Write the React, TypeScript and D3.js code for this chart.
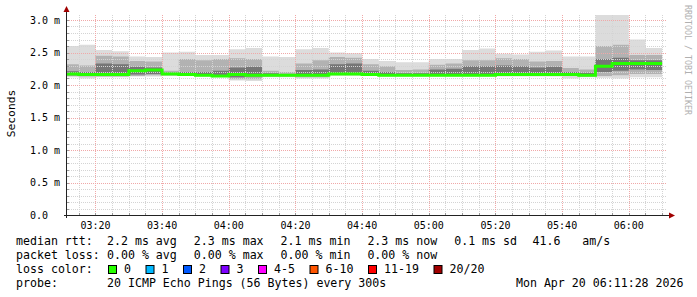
import React from "react";
import * as d3 from "d3";

// bucket start times (5-min steps), values in ms
const bucketStarts = [
  "03:10","03:15","03:20","03:25","03:30","03:35","03:40","03:45","03:50","03:55",
  "04:00","04:05","04:10","04:15","04:20","04:25","04:30","04:35","04:40","04:45",
  "04:50","04:55","05:00","05:05","05:10","05:15","05:20","05:25","05:30","05:35",
  "05:40","05:45","05:50","05:55","06:00","06:05",
];
const pingMax = [2.60,2.62,2.54,2.52,2.44,2.43,2.50,2.51,2.46,2.46,2.55,2.57,2.44,2.43,2.55,2.57,2.50,2.49,2.40,2.37,2.35,2.35,2.40,2.40,2.54,2.56,2.48,2.47,2.51,2.53,2.44,2.44,3.10,3.10,2.70,2.57];
const pingHiA = [2.32,2.30,2.45,2.44,2.37,2.36,2.22,2.40,2.38,2.40,2.41,2.40,2.22,2.20,2.33,2.38,2.43,2.42,2.32,2.29,2.23,2.24,2.31,2.33,2.38,2.38,2.41,2.40,2.36,2.37,2.26,2.24,2.60,2.62,2.46,2.46];
const pingHiB = [2.21,2.20,2.33,2.32,2.28,2.27,2.19,2.20,2.20,2.22,2.27,2.28,2.18,2.17,2.23,2.24,2.32,2.33,2.22,2.20,2.18,2.18,2.24,2.25,2.29,2.29,2.30,2.29,2.27,2.28,2.20,2.19,2.40,2.42,2.38,2.38];
const pingMedian = [2.17,2.16,2.16,2.16,2.22,2.23,2.17,2.16,2.15,2.14,2.16,2.15,2.15,2.15,2.15,2.15,2.17,2.17,2.16,2.15,2.15,2.15,2.15,2.15,2.15,2.15,2.16,2.16,2.16,2.16,2.16,2.15,2.29,2.33,2.33,2.33];
const pingLoB = [2.15,2.15,2.14,2.14,2.16,2.17,2.16,2.15,2.14,2.13,2.12,2.13,2.14,2.14,2.14,2.14,2.16,2.16,2.15,2.14,2.14,2.14,2.14,2.14,2.14,2.14,2.15,2.15,2.15,2.15,2.15,2.14,2.20,2.22,2.24,2.23];
const pingLoA = [2.14,2.13,2.13,2.13,2.14,2.15,2.15,2.14,2.14,2.13,2.09,2.09,2.13,2.13,2.12,2.12,2.15,2.15,2.14,2.14,2.14,2.14,2.14,2.14,2.14,2.14,2.14,2.14,2.14,2.14,2.14,2.13,2.14,2.15,2.17,2.17];
const pingMin = [2.12,2.10,2.12,2.12,2.13,2.13,2.14,2.14,2.13,2.12,2.07,2.06,2.12,2.12,2.10,2.10,2.15,2.15,2.14,2.13,2.13,2.13,2.13,2.13,2.13,2.13,2.13,2.13,2.13,2.13,2.10,2.12,2.11,2.10,2.12,2.12];

const yTicks = [0, 0.5, 1.0, 1.5, 2.0, 2.5, 3.0];
const yTickLabels = ["0.0", "0.5 m", "1.0 m", "1.5 m", "2.0 m", "2.5 m", "3.0 m"];
const xTickLabels = ["03:20","03:40","04:00","04:20","04:40","05:00","05:20","05:40","06:00"];

const statLabels = ["2.2 ms avg", "2.3 ms max", "2.1 ms min", "2.3 ms now", "0.1 ms sd"];
const lossStats = ["0.00 % avg", "0.00 % max", "0.00 % min", "0.00 % now"];
const lossNames = ["0", "1", "2", "3", "4-5", "6-10", "11-19", "20/20"];
const lossColors = ["#26ff00", "#00b8ff", "#0059ff", "#7e00ff", "#ff00ff", "#ff5500", "#ff0000", "#a00000"];

const FONT = "'DejaVu Sans Mono', monospace";
const day = "2026-04-20T";
const parse = (s: string) => new Date(`${day}${s}:00`);

export default function App() {
  const W = 697, H = 297;
  const x0 = 67, x1 = 667, yBot = 215, yTop = 15;
  const x = d3.scaleTime().domain([new Date(`${day}03:11:28`), new Date(`${day}06:11:28`)]).range([x0, x1]);
  const y = d3.scaleLinear().domain([0, 3]).range([yBot, 20]);

  const starts = bucketStarts.map(parse);
  const lastEnd = new Date(starts[starts.length - 1].getTime() + 5 * 60000);
  const times = [...starts, lastEnd];
  const ext = (arr: number[]) => [...arr, arr[arr.length - 1]];

  const band = (lo: number[], hi: number[]) => {
    const L = ext(lo), Hh = ext(hi);
    return d3.area<number>()
      .x((i) => x(times[i]))
      .y0((i) => y(L[i]))
      .y1((i) => y(Hh[i]))
      .curve(d3.curveStepAfter)(d3.range(times.length)) || "";
  };
  const medExt = ext(pingMedian);
  const medLine = d3.line<number>()
    .x((i) => x(times[i]))
    .y((i) => y(medExt[i]))
    .curve(d3.curveStepAfter)(d3.range(times.length)) || "";

  const minorY = d3.range(0, 31).map((v) => v / 10).filter((v) => Math.round(v * 10) % 5 !== 0);
  const tickStart = parse("03:15");
  const minorX: Date[] = [];
  for (let t = tickStart.getTime(); t <= x.domain()[1].getTime(); t += 5 * 60000) {
    const d = new Date(t);
    if (d.getMinutes() % 20 !== 0) minorX.push(d);
  }
  const majorX = xTickLabels.map(parse);

  const col = (i: number) => 107 + 86.8 * i;
  const legendItems: { bx: number; name: string; color: string }[] = [];
  let bx = 108;
  lossNames.forEach((n, i) => {
    legendItems.push({ bx, name: n, color: lossColors[i] });
    bx = bx + 16 + n.length * 7 + 14.5;
  });

  return (
    <svg width={W} height={H} style={{ position: "absolute", left: 0, top: 0, background: "#fff" }}
      fontFamily={FONT}>
      <rect x={0} y={0} width={W} height={H} fill="#ffffff" />
      <defs>
        <clipPath id="plot">
          <rect x={x0} y={yTop} width={x1 - x0} height={yBot - yTop} />
        </clipPath>
      </defs>
      <g clipPath="url(#plot)">
        <path d={band(pingMin, pingMax)} fill="#dcdcdc" />
        <path d={band(pingLoA, pingHiA)} fill="#b2b2b2" />
        <path d={band(pingLoB, pingHiB)} fill="#767676" />
      </g>
      {/* grid */}
      <g shapeRendering="crispEdges">
        {minorY.map((v) => (
          <line key={"my" + v} x1={x0} x2={x1} y1={Math.round(y(v)) + 0.5} y2={Math.round(y(v)) + 0.5}
            stroke="#d4d4d4" strokeDasharray="1,1" />
        ))}
        {minorX.map((d) => (
          <line key={"mx" + d.getTime()} x1={Math.round(x(d)) + 0.5} x2={Math.round(x(d)) + 0.5} y1={yTop} y2={yBot}
            stroke="#d4d4d4" strokeDasharray="1,1" />
        ))}
        {yTicks.slice(1).map((v) => (
          <line key={"My" + v} x1={x0} x2={x1} y1={Math.round(y(v)) + 0.5} y2={Math.round(y(v)) + 0.5}
            stroke="#f0a8a8" strokeDasharray="1,1" />
        ))}
        {majorX.map((d) => (
          <line key={"Mx" + d.getTime()} x1={Math.round(x(d)) + 0.5} x2={Math.round(x(d)) + 0.5} y1={yTop} y2={yBot}
            stroke="#f0a8a8" strokeDasharray="1,1" />
        ))}
      </g>
      <g clipPath="url(#plot)">
        <path d={medLine} fill="none" stroke={lossColors[0]} strokeWidth={3} />
      </g>
      {/* axes */}
      <g shapeRendering="crispEdges">
        {minorX.concat(majorX).map((d) => (
          <line key={"tx" + d.getTime()} x1={Math.round(x(d)) + 0.5} x2={Math.round(x(d)) + 0.5} y1={yBot - 2} y2={yBot}
            stroke="#999" />
        ))}
        {minorY.concat(yTicks.slice(1)).map((v) => (
          <line key={"ty" + v} x1={x0} x2={x0 + 2} y1={Math.round(y(v)) + 0.5} y2={Math.round(y(v)) + 0.5} stroke="#999" />
        ))}
        <line x1={x0 - 0.5} x2={x0 - 0.5} y1={yBot + 3} y2={10} stroke="#222" />
        <line x1={x0 - 3} x2={x1 + 3} y1={yBot + 0.5} y2={yBot + 0.5} stroke="#222" />
      </g>
      <path d={`M${x0 - 3.5},${12} L${x0 - 0.5},${6} L${x0 + 2.5},${12} Z`} fill="#a00000" />
      <path d={`M${x1 + 2},${yBot - 2.5} L${x1 + 8},${yBot + 0.5} L${x1 + 2},${yBot + 3.5} Z`} fill="#a00000" />

      {/* tick labels */}
      {yTicks.map((v, i) => (
        <text key={"yl" + v} x={30} y={y(v) + 3.6} fontSize={10} fill="#000">{yTickLabels[i]}</text>
      ))}
      {majorX.map((d, i) => (
        <text key={"xl" + i} x={x(d)} y={228.5} fontSize={10} textAnchor="middle" fill="#000">{xTickLabels[i]}</text>
      ))}
      <text transform="translate(15,113.5) rotate(-90)" textAnchor="middle" fontSize={11.3} fill="#000">Seconds</text>
      <text transform="translate(685,5) rotate(90)" fontSize={8.3} fill="#b0b0b0">RRDTOOL / TOBI OETIKER</text>

      {/* legend */}
      <g fontSize={11.6} fill="#000">
        <text x={16} y={245}>median rtt:</text>
        {statLabels.map((s, i) => (
          <text key={"s" + i} x={col(i)} y={245}>{s}</text>
        ))}
        <text x={532.6} y={245}>41.6</text>
        <text x={582.2} y={245}>am/s</text>
        <text x={16} y={259}>packet loss:</text>
        {lossStats.map((s, i) => (
          <text key={"l" + i} x={col(i)} y={259}>{s}</text>
        ))}
        <text x={16} y={273}>loss color:</text>
        {legendItems.map((it, i) => (
          <g key={"lg" + i}>
            <rect x={it.bx + 0.5} y={265.5} width={8} height={8} fill={it.color} stroke="#000" strokeWidth={1} />
            <text x={it.bx + 16} y={273}>{it.name}</text>
          </g>
        ))}
        <text x={16} y={287}>probe:</text>
        <text x={107} y={287}>20 ICMP Echo Pings (56 Bytes) every 300s</text>
        <text x={683.5} y={287} textAnchor="end">Mon Apr 20 06:11:28 2026</text>
      </g>
    </svg>
  );
}
